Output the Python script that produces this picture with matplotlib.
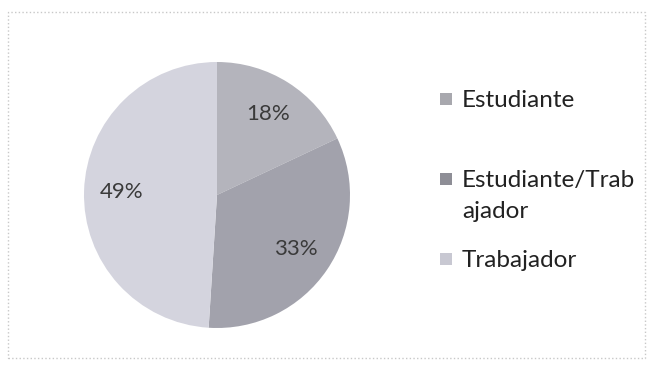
import matplotlib.pyplot as plt
from matplotlib.patches import Rectangle

categorias = ['Estudiante', 'Estudiante/Trabajador', 'Trabajador']
porcentajes = [18, 33, 49]
colores = ['#b4b4bc', '#a2a2ac', '#d4d4de']
colores_leyenda = ['#a8a8ae', '#8e8e96', '#c8c8d2']

plt.rcParams['font.family'] = ['Lato', 'DejaVu Sans']

fig = plt.figure(figsize=(6.53, 3.74), dpi=100)

# marco punteado del grafico
fig.patches.append(Rectangle((8 / 653, 1 - 358 / 374), 637 / 653, 346 / 374,
                             transform=fig.transFigure, fill=False,
                             edgecolor='#c8c8c8', linestyle=':', linewidth=1))

ax = fig.add_axes([84 / 653, 1 - 328 / 374, 266 / 653, 266 / 374])
wedges, textos, pcts = ax.pie(porcentajes, colors=colores, startangle=90,
                              counterclock=False, radius=1,
                              autopct=lambda p: f'{p:.0f}%', pctdistance=0.72,
                              wedgeprops={'linewidth': 0})
for t in pcts:
    t.set_fontsize(16)
    t.set_color('#3a3a3a')
ax.set_xlim(-1, 1)
ax.set_ylim(-1, 1)
ax.set_aspect('equal')

# leyenda a mano (Excel reparte las filas de forma desigual)
marca_y = [107, 187, 267]
for nombre, col, y in zip(categorias, colores_leyenda, marca_y):
    fig.patches.append(Rectangle((440 / 653, 1 - (y - 2) / 374), 12 / 653, 12 / 374,
                                 transform=fig.transFigure, facecolor=col,
                                 edgecolor='none'))
    if len(nombre) > 15:
        fig.text(462 / 653, 1 - y / 374, nombre[:15], fontsize=17.5,
                 color='#222222', va='baseline', ha='left')
        fig.text(462 / 653, 1 - (y + 31) / 374, nombre[15:], fontsize=17.5,
                 color='#222222', va='baseline', ha='left')
    else:
        fig.text(462 / 653, 1 - y / 374, nombre, fontsize=17.5,
                 color='#222222', va='baseline', ha='left')

fig.savefig('out.png', dpi=100)
